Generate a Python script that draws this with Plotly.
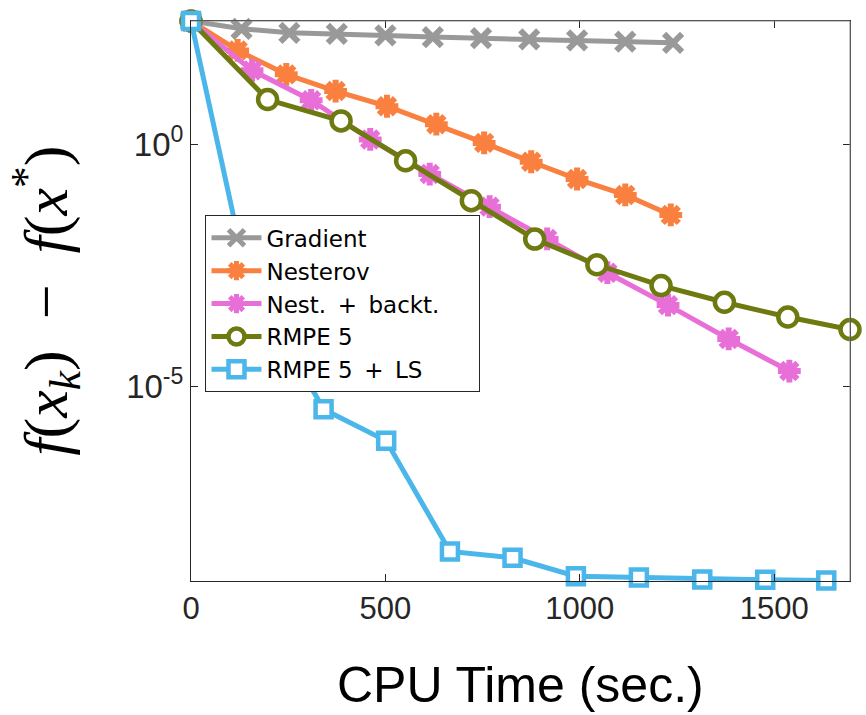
import plotly.graph_objects as go

# ---- data ----
grad_x = [0, 130, 253, 375, 500, 622, 746, 870, 993, 1117, 1240]
grad_y = [350, 242, 200, 191, 176, 163, 155, 146, 139, 132, 124]

nest_x = [0, 120, 245, 372, 504, 631, 754, 875, 993, 1117, 1234]
nest_y = [350, 86.5, 27.7, 12.5, 6.07, 2.58, 1.06, 0.432, 0.19, 0.089, 0.0344]

nbt_x = [0, 157, 309, 461, 614, 768, 916, 1071, 1227, 1383, 1539]
nbt_y = [350, 33.5, 8.06, 1.25, 0.241, 0.051, 0.011, 0.0022, 4.71e-4, 9.4e-5, 2.04e-5]

rmpe_x = [0, 197, 386, 552, 721, 884, 1044, 1209, 1372, 1535, 1695]
rmpe_y = [350, 8.34, 3.02, 0.453, 0.0676, 0.0109, 0.00321, 0.00119, 5.38e-4, 2.67e-4, 1.47e-4]

ls_x = [0, 140, 341, 502, 666, 827, 990, 1152, 1315, 1477, 1634]
ls_y = [350, 2.4e-3, 3.31e-6, 7.36e-7, 3.8e-9, 2.82e-9, 1.17e-9, 1.1e-9, 1.0e-9, 9.9e-10, 9.6e-10]

x_ticks = [0, 500, 1000, 1500]
y_ticks = [1, 1e-5]
y_ticktext = ["10<sup>0</sup>", "10<sup>-5</sup>"]

names = ["Gradient", "Nesterov", "Nest.\u2002+\u2002backt.\u2002\u2002\u2002", "RMPE 5", "RMPE 5\u2002+\u2002LS"]
colors = ["#999999", "#FA8040", "#E96FD8", "#6E7A10", "#4BB6EA"]

fig = go.Figure()
LW = 5

fig.add_trace(go.Scatter(x=grad_x, y=grad_y, name=names[0], mode="lines+markers",
                         line=dict(color=colors[0], width=LW),
                         marker=dict(symbol="x-thin", size=18, line=dict(color=colors[0], width=6)),
                         cliponaxis=False))
fig.add_trace(go.Scatter(x=nest_x, y=nest_y, name=names[1], mode="lines+markers",
                         line=dict(color=colors[1], width=LW),
                         marker=dict(symbol="asterisk-open", size=19, color=colors[1],
                                     line=dict(color=colors[1], width=6)),
                         cliponaxis=False))
fig.add_trace(go.Scatter(x=nbt_x, y=nbt_y, name=names[2], mode="lines+markers",
                         line=dict(color=colors[2], width=LW),
                         marker=dict(symbol="asterisk-open", size=19, color=colors[2],
                                     line=dict(color=colors[2], width=6)),
                         cliponaxis=False))
fig.add_trace(go.Scatter(x=rmpe_x, y=rmpe_y, name=names[3], mode="lines+markers",
                         line=dict(color=colors[3], width=LW),
                         marker=dict(symbol="circle", size=19, color="white",
                                     line=dict(color=colors[3], width=4.5)),
                         cliponaxis=False))
fig.add_trace(go.Scatter(x=ls_x, y=ls_y, name=names[4], mode="lines+markers",
                         line=dict(color=colors[4], width=LW),
                         marker=dict(symbol="square", size=16, color="white",
                                     line=dict(color=colors[4], width=4.5)),
                         cliponaxis=False))

axis_col = "#262626"
fig.update_layout(
    width=866, height=715,
    margin=dict(l=190.5, r=16, t=20.5, b=134),
    paper_bgcolor="white", plot_bgcolor="white",
    font=dict(family="Liberation Sans, Arial, sans-serif", color=axis_col),
    showlegend=True,
    legend=dict(x=0.022, y=0.653, xanchor="left", yanchor="top",
                bgcolor="white", bordercolor="#262626", borderwidth=1,
                font=dict(size=23, color="black", family="DejaVu Sans, sans-serif"),
                itemwidth=50, tracegroupgap=0),
    xaxis=dict(range=[0, 1695], tickvals=x_ticks, ticktext=[str(v) for v in x_ticks],
               ticks="inside", ticklen=7, tickcolor=axis_col, mirror="ticks",
               showline=True, linecolor=axis_col, linewidth=1, showgrid=False, zeroline=False,
               tickfont=dict(size=31, color=axis_col)),
    yaxis=dict(type="log", range=[-9.03, 2.545], tickvals=y_ticks, ticktext=y_ticktext,
               ticks="inside", ticklen=7, tickcolor=axis_col, mirror="ticks",
               showline=True, linecolor=axis_col, linewidth=1, showgrid=False, zeroline=False,
               tickfont=dict(size=33, color=axis_col)),
)

# lighter top/right box lines
fig.add_shape(type="line", xref="paper", yref="paper", x0=0, x1=1, y0=1, y1=1,
              line=dict(color="#8a8a8a", width=1), layer="above")
fig.add_shape(type="line", xref="paper", yref="paper", x0=1, x1=1, y0=0, y1=1,
              line=dict(color="#8a8a8a", width=1), layer="above")

# axis titles
fig.add_annotation(text="CPU Time (sec.)", xref="paper", yref="paper",
                   x=0.4996, y=-0.186, xanchor="center", yanchor="middle", showarrow=False,
                   font=dict(size=50, color="black", family="Liberation Sans, Arial, sans-serif"))
fig.add_annotation(text="<i>f</i>(<i>x<sub>k</sub></i>)\u2002\u2212\u2002<i>f</i>(<i>x</i><sup>*</sup>)",
                   xref="paper", yref="paper", x=-0.222, y=0.50, xanchor="center", yanchor="middle",
                   textangle=-90, showarrow=False,
                   font=dict(size=62, color="black", family="Liberation Serif, DejaVu Serif, serif"))

fig.write_html("out.html", config={"displayModeBar": False},
               post_script="document.body.style.margin='0px';")
